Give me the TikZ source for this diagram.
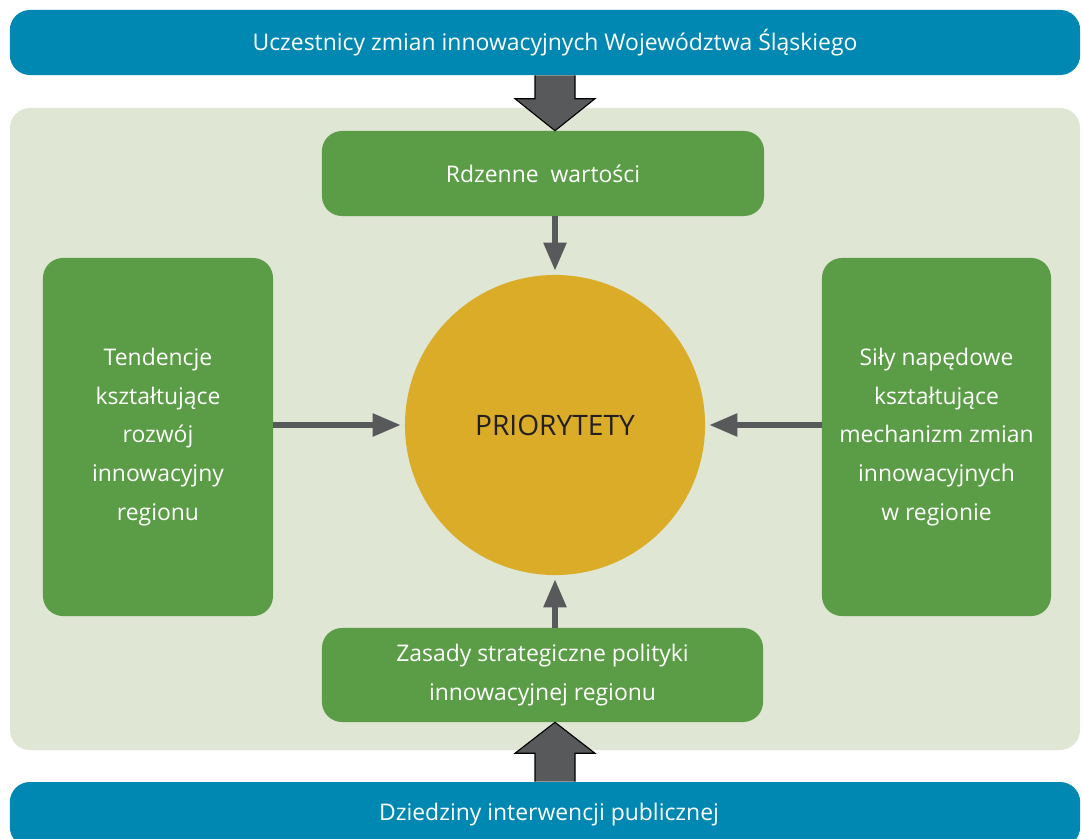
\documentclass[tikz,border=0pt]{standalone}
\usepackage{fontspec}
\setmainfont{Open Sans}
\usetikzlibrary{calc,arrows.meta}
\definecolor{barblue}{HTML}{0088B3}
\definecolor{panelgreen}{HTML}{DFE6D4}
\definecolor{boxgreen}{HTML}{5B9D46}
\definecolor{prioyellow}{HTML}{DAAC27}
\definecolor{arrowgray}{HTML}{58595B}
\definecolor{priotext}{HTML}{231F20}
\begin{document}
\begin{tikzpicture}[x=0.025cm,y=-0.025cm,
    bar/.style={fill=barblue,rounded corners=0.5cm,text=white,minimum width=26.75cm,minimum height=1.625cm,font=\fontsize{16.3}{19}\selectfont},
    box/.style={fill=boxgreen,rounded corners=0.5cm,text=white,align=center,font=\fontsize{16.3}{27.7}\selectfont},
    conn/.style={draw=arrowgray,line width=3.9pt,-{Triangle[length=0.7cm,width=0.55cm]},shorten >=0.1cm},
    bigarrow/.style={fill=arrowgray,draw=black,line width=0.8pt,line join=miter}]
    \useasboundingbox (0,0) rectangle (1082,839);
    \fill[white] (0,0) rectangle (1082,839);
    % panel behind the boxes
    \fill[panelgreen,rounded corners=0.5cm] (10,108) rectangle (1080,750);

    \node (top) at (545,42.5) [bar] {\hspace{0.5cm}Uczestnicy zmian innowacyjnych Województwa Śląskiego};
    \node (dzied) at (545,814.5) [bar] {\hspace{0.2cm}Dziedziny interwencji publicznej};

    \node (rdz) at (543,173.5) [box,minimum width=11.05cm,minimum height=2.125cm] {Rdzenne\ \ wartości};
    \node (zasady) at (542.5,675) [box,minimum width=11.025cm,minimum height=2.35cm] {Zasady strategiczne polityki\\innowacyjnej regionu};
    \node (tend) at (158,437) [box,minimum width=5.75cm,minimum height=8.95cm] {Tendencje\\kształtujące\\rozwój\\innowacyjny\\regionu};
    \node (sily) at (936.5,437) [box,minimum width=5.725cm,minimum height=8.95cm] {Siły napędowe\\kształtujące\\mechanizm zmian\\innowacyjnych\\w regionie};
    \node (prio) at (555,425) [circle,fill=prioyellow,minimum size=7.5cm,text=priotext,font=\fontsize{20}{22}\selectfont] {PRIORYTETY};

    % connectors
    \draw[conn] (rdz.south -| prio.center) -- (prio.north);
    \draw[conn] (zasady.north -| prio.center) -- (prio.south);
    \draw[conn] (tend.east |- prio.center) -- (prio.west);
    \draw[conn] (sily.west |- prio.center) -- (prio.east);

    % block arrows from the bars
    \coordinate (ttip) at (rdz.north -| prio.center);
    \coordinate (tbase) at (top.south -| prio.center);
    \draw[bigarrow] ($(tbase)+(-20,0)$) -- ($(ttip)+(-20,-32)$) -- ($(ttip)+(-40,-32)$) -- (ttip)
        -- ($(ttip)+(40,-32)$) -- ($(ttip)+(20,-32)$) -- ($(tbase)+(20,0)$);
    \coordinate (btip) at (zasady.south -| prio.center);
    \coordinate (bbase) at (dzied.north -| prio.center);
    \draw[bigarrow] ($(bbase)+(-20,0)$) -- ($(btip)+(-20,31)$) -- ($(btip)+(-40,31)$) -- (btip)
        -- ($(btip)+(40,31)$) -- ($(btip)+(20,31)$) -- ($(bbase)+(20,0)$);
\end{tikzpicture}
\end{document}
